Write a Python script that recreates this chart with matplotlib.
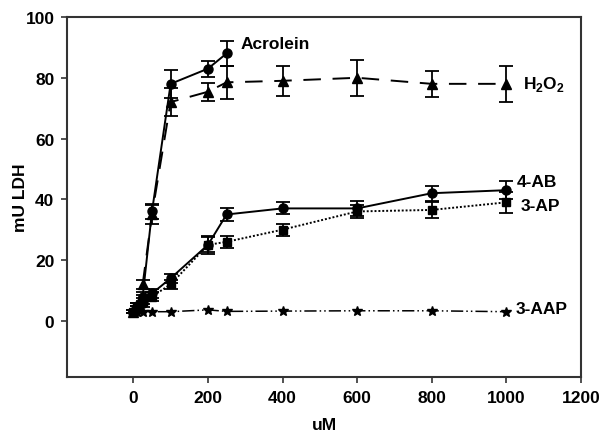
import matplotlib
matplotlib.use("Agg")
import matplotlib.pyplot as plt

plt.rcParams["font.family"] = ["Liberation Sans", "DejaVu Sans"]
plt.rcParams["font.weight"] = "bold"
plt.rcParams["mathtext.fontset"] = "custom"
plt.rcParams["mathtext.rm"] = "Liberation Sans:bold"
plt.rcParams["mathtext.bf"] = "Liberation Sans:bold"

# concentrations (uM)
conc = [0, 10, 25, 50, 100, 200, 250, 400, 600, 800, 1000]
conc_acro = [0, 10, 25, 50, 100, 200, 250]

acrolein = [3, 5, 8, 36, 78, 83, 88]
acrolein_err = [0.5, 1, 1.5, 2.5, 4.5, 2.6, 4]

h2o2 = [3, 5, 12, 35, 72, 75.4, 78.5, 79, 80, 78, 78]
h2o2_err = [0.5, 1, 1.5, 3, 4.5, 3, 5.5, 5, 6, 4.3, 6]

ab4 = [3, 4, 6, 9, 14, 25, 35, 37, 37, 42, 43]
ab4_err = [0.5, 1, 1.5, 1.5, 1.5, 2.5, 2, 2, 2.5, 2.4, 3]

ap3 = [3, 4, 7, 8, 12, 25, 26, 30, 36, 36.5, 39]
ap3_err = [0.5, 1, 1.5, 1.5, 1.5, 3, 2, 2, 2, 2.6, 3.5]

aap3 = [3, 3, 3, 3, 3, 3.6, 3.1, 3.2, 3.3, 3.3, 3]

labels = ["Acrolein", "H$_\\mathbf{2}$O$_\\mathbf{2}$", "4-AB", "3-AP", "3-AAP"]
label_x = [287, 1045, 1029, 1038, 1026]
label_y = [91.4, 78, 46, 37.8, 4]

fig = plt.figure(figsize=(6.03, 4.35), dpi=100)
ax = fig.add_axes([0.111, 0.131, 0.8525, 0.8276])

ebkw = dict(color="black", ecolor="black", elinewidth=1.3, capsize=5, capthick=1.3, lw=1.4)

ax.errorbar(conc_acro, acrolein, yerr=acrolein_err, fmt="o", ls="-", ms=6.5, **ebkw)
ax.errorbar(conc, h2o2, yerr=h2o2_err, fmt="^", ls=(0, (9, 6)), ms=6.5, **ebkw)
ax.errorbar(conc, ab4, yerr=ab4_err, fmt="o", ls="-", ms=6.5, **ebkw)
ax.errorbar(conc, ap3, yerr=ap3_err, fmt="s", ls=(0, (1, 1)), ms=6, **ebkw)
ax.plot(conc, aap3, marker="*", color="black", ms=7, lw=1.1,
        ls=(0, (8, 2, 1, 2, 1, 2)))

for text, tx, ty in zip(labels, label_x, label_y):
    ax.text(tx, ty, text, fontsize=12.5, fontweight="bold", va="center", ha="left")

ax.set_xlim(-178, 1200)
ax.set_ylim(-18.5, 100)
ax.set_xticks([0, 200, 400, 600, 800, 1000, 1200])
ax.set_yticks([0, 20, 40, 60, 80, 100])
ax.tick_params(axis="both", labelsize=12.5, length=4, width=1.2, color="#333333",
               top=False, right=False, direction="out", pad=5)
for side in ["left", "right", "top", "bottom"]:
    ax.spines[side].set_linewidth(1.5)
    ax.spines[side].set_color("#333333")

ax.set_xlabel("uM", fontsize=12.5, fontweight="bold", labelpad=9)
ax.set_ylabel("mU LDH", fontsize=12.5, fontweight="bold", labelpad=-2)

fig.savefig("out.png", dpi=100)
